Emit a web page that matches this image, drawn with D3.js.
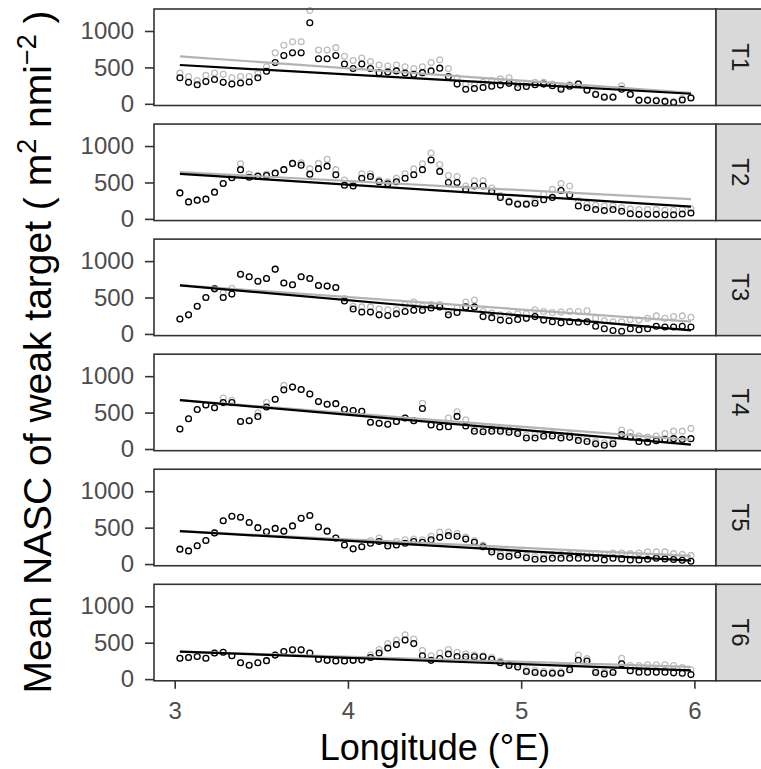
<!DOCTYPE html>
<html>
<head>
<meta charset="utf-8">
<script src="https://cdn.jsdelivr.net/npm/d3@7"></script>
<style>
    body { margin: 0; background: #ffffff; }
    svg { display: block; font-family: "Liberation Sans", Arial, sans-serif; }
</style>
</head>
<body>
<svg id="chart" width="761" height="769"></svg>
<script>
// longitude of each averaged cell (deg E)
var lon = [3.03, 3.08, 3.13, 3.18, 3.23, 3.28, 3.33, 3.38, 3.43, 3.48,
    3.53, 3.58, 3.63, 3.68, 3.73, 3.78, 3.83, 3.88, 3.93, 3.98,
    4.03, 4.08, 4.13, 4.18, 4.23, 4.28, 4.33, 4.38, 4.43, 4.48,
    4.53, 4.58, 4.63, 4.68, 4.73, 4.78, 4.83, 4.88, 4.93, 4.98,
    5.03, 5.08, 5.13, 5.18, 5.23, 5.28, 5.33, 5.38, 5.43, 5.48,
    5.53, 5.58, 5.63, 5.68, 5.73, 5.78, 5.83, 5.88, 5.93, 5.98];

var transects = ["T1", "T2", "T3", "T4", "T5", "T6"];
var yTicks = [0, 500, 1000];
var xTicks = [3, 4, 5, 6];

// black circles
var t1Black = [357, 295, 262, 305, 333, 295, 271, 286, 300, 357, 447, 566, 662, 700, 700, 1114, 619, 619, 662, 547,
    486, 547, 486, 428, 438, 452, 424, 405, 428, 452, 490, 376, 271, 200, 209, 224, 243, 257, 281, 224,
    238, 262, 271, 248, 200, 243, 271, 186, 129, 90, 90, 200, 129, 48, 48, 43, 33, 19, 52, 81];
var t2Black = [357, 233, 257, 271, 367, 486, 566, 676, 571, 586, 595, 628, 676, 762, 738, 614, 690, 724, 605, 462,
    452, 557, 581, 509, 481, 509, 557, 605, 676, 809, 652, 500, 500, 405, 452, 452, 376, 295, 233, 200,
    200, 214, 262, 295, 390, 328, 176, 152, 129, 114, 129, 105, 71, 62, 62, 62, 57, 57, 67, 81];
var t3Black = [205, 262, 381, 500, 619, 500, 547, 819, 785, 724, 762, 890, 700, 676, 785, 762, 666, 657, 638, 452,
    343, 300, 300, 262, 252, 276, 309, 324, 324, 357, 371, 262, 295, 371, 371, 238, 224, 190, 181, 200,
    214, 238, 190, 167, 152, 167, 162, 167, 105, 71, 48, 38, 71, 57, 71, 105, 95, 95, 105, 95];
var t4Black = [274, 415, 543, 604, 566, 637, 637, 378, 387, 448, 576, 684, 812, 850, 817, 755, 651, 614, 623, 543,
    529, 519, 368, 354, 340, 378, 425, 387, 557, 330, 302, 307, 448, 316, 245, 236, 245, 245, 231, 212,
    151, 151, 175, 179, 151, 160, 118, 104, 71, 52, 71, 198, 165, 104, 94, 113, 132, 142, 132, 142];
var t5Black = [205, 181, 252, 324, 428, 595, 657, 643, 571, 500, 443, 490, 452, 524, 628, 666, 509, 452, 357, 262,
    209, 238, 286, 309, 248, 262, 286, 309, 300, 333, 367, 390, 381, 343, 300, 238, 167, 105, 105, 124,
    86, 67, 71, 81, 81, 81, 81, 81, 76, 57, 81, 71, 57, 57, 67, 81, 71, 62, 52, 38];
var t6Black = [287, 297, 311, 287, 359, 368, 321, 225, 191, 225, 254, 330, 378, 402, 402, 359, 273, 258, 249, 249,
    258, 263, 297, 359, 426, 474, 536, 488, 321, 258, 282, 345, 311, 306, 306, 306, 273, 225, 187, 167,
    105, 91, 81, 81, 81, 129, 258, 249, 91, 72, 91, 211, 115, 96, 96, 96, 96, 86, 81, 62];

// grey circles
var t1Grey = [424, 376, 319, 390, 424, 405, 357, 376, 376, 414, 509, 700, 804, 852, 852, 1280, 738, 738, 771, 652,
    595, 628, 581, 533, 519, 533, 509, 486, 509, 566, 605, 486, 357, 271, 271, 295, 319, 343, 357, 271,
    281, 295, 295, 271, 224, 262, 281, 200, 138, 105, 105, 248, 138, 57, 57, 52, 43, 33, 71, 90];
var t2Grey = [357, 233, 257, 271, 367, 486, 566, 757, 614, 600, 614, 628, 676, 762, 771, 690, 762, 819, 676, 533,
    486, 619, 619, 533, 509, 557, 619, 686, 757, 904, 747, 595, 581, 452, 524, 524, 424, 319, 248, 214,
    214, 248, 343, 405, 486, 452, 248, 200, 186, 176, 176, 152, 138, 129, 129, 129, 119, 119, 129, 138];
var t3Grey = [205, 262, 381, 500, 628, 571, 628, 819, 785, 724, 762, 890, 700, 676, 785, 762, 666, 657, 638, 486,
    381, 371, 371, 343, 333, 333, 405, 438, 381, 405, 405, 309, 357, 438, 466, 309, 286, 262, 262, 276,
    276, 333, 309, 295, 300, 309, 309, 319, 214, 181, 167, 167, 200, 190, 214, 248, 214, 238, 248, 228];
var t4Grey = [274, 415, 543, 604, 566, 699, 670, 378, 387, 496, 637, 684, 873, 850, 817, 755, 651, 614, 623, 543,
    529, 519, 368, 354, 340, 378, 425, 387, 628, 330, 302, 425, 510, 401, 283, 269, 283, 274, 260, 245,
    189, 198, 212, 212, 189, 198, 160, 142, 104, 85, 104, 260, 227, 179, 165, 179, 212, 245, 245, 283];
var t5Grey = [205, 181, 252, 324, 428, 595, 657, 643, 571, 500, 443, 490, 452, 524, 628, 666, 509, 452, 357, 262,
    209, 238, 324, 357, 286, 309, 333, 343, 333, 381, 438, 438, 419, 371, 324, 262, 200, 143, 143, 152,
    119, 105, 119, 129, 133, 133, 133, 143, 143, 133, 152, 152, 143, 152, 167, 167, 167, 143, 133, 119];
var t6Grey = [287, 297, 311, 287, 359, 368, 321, 225, 191, 225, 254, 330, 378, 402, 402, 359, 273, 258, 249, 249,
    258, 263, 330, 407, 488, 536, 608, 550, 392, 321, 359, 407, 368, 345, 330, 321, 297, 249, 215, 201,
    129, 120, 105, 100, 100, 167, 330, 282, 120, 100, 120, 287, 187, 187, 196, 196, 196, 187, 158, 129];

// linear trend lines: value at the first and last longitude
var fitLon = [3.03, 5.98];
var blackFit = [[533, 138], [619, 167], [666, 48], [670, 61], [452, 48], [378, 120]];
var greyFit = [[652, 152], [643, 271], [670, 170], [670, 125], [452, 112], [378, 167]];

var blackSeries = [t1Black, t2Black, t3Black, t4Black, t5Black, t6Black];
var greySeries = [t1Grey, t2Grey, t3Grey, t4Grey, t5Grey, t6Grey];

var panelLeft = 154, panelRight = 716, stripW = 47;
var panelTop = 9, panelH = 96.5, panelStep = 115.06;

var svg = d3.select("#chart");

var x = d3.scaleLinear().domain([2.8805, 6.1247]).range([panelLeft, panelRight]);
var y = d3.scaleLinear().domain([-23, 1302]).range([panelH, 0]);

var line = d3.line()
    .x(function (d, i) { return x(fitLon[i]); })
    .y(function (d) { return y(d); });

transects.forEach(function (name, k) {
    var g = svg.append("g")
        .attr("transform", "translate(0," + (panelTop + k * panelStep) + ")");

    g.append("rect")
        .attr("x", panelLeft).attr("y", 0)
        .attr("width", panelRight - panelLeft).attr("height", panelH)
        .attr("fill", "#ffffff");

    var plot = g.append("g");

    plot.selectAll("circle.grey")
        .data(greySeries[k])
        .enter().append("circle")
        .attr("class", "grey")
        .attr("cx", function (d, i) { return x(lon[i]); })
        .attr("cy", function (d) { return y(d); })
        .attr("r", 2.9)
        .attr("fill", "none")
        .attr("stroke", "#bdbdbd")
        .attr("stroke-width", 1.3);

    plot.selectAll("circle.black")
        .data(blackSeries[k])
        .enter().append("circle")
        .attr("class", "black")
        .attr("cx", function (d, i) { return x(lon[i]); })
        .attr("cy", function (d) { return y(d); })
        .attr("r", 2.9)
        .attr("fill", "none")
        .attr("stroke", "#000000")
        .attr("stroke-width", 1.3);

    plot.append("path")
        .datum(greyFit[k])
        .attr("d", line)
        .attr("fill", "none")
        .attr("stroke", "#b3b3b3")
        .attr("stroke-width", 2.2);

    plot.append("path")
        .datum(blackFit[k])
        .attr("d", line)
        .attr("fill", "none")
        .attr("stroke", "#000000")
        .attr("stroke-width", 2.2);

    // y axis
    var yAxis = g.append("g")
        .attr("transform", "translate(" + panelLeft + ",0)")
        .call(d3.axisLeft(y).tickValues(yTicks).tickSize(9).tickPadding(11).tickFormat(d3.format("d")));
    yAxis.select(".domain").remove();
    yAxis.selectAll("line").attr("stroke", "#333333").attr("stroke-width", 1.6);
    yAxis.selectAll("text")
        .attr("fill", "#4d4d4d")
        .style("font-size", "24px")
        .style("font-family", "'Liberation Sans', Arial, sans-serif");

    if (k === transects.length - 1) {
        var xAxis = g.append("g")
            .attr("transform", "translate(0," + panelH + ")")
            .call(d3.axisBottom(x).tickValues(xTicks).tickSize(8).tickPadding(13).tickFormat(d3.format("d")));
        xAxis.select(".domain").remove();
        xAxis.selectAll("line").attr("stroke", "#333333").attr("stroke-width", 1.6);
        xAxis.selectAll("text")
            .attr("fill", "#4d4d4d")
            .style("font-size", "24px")
            .style("font-family", "'Liberation Sans', Arial, sans-serif");
    }

    // panel border
    g.append("rect")
        .attr("x", panelLeft).attr("y", 0)
        .attr("width", panelRight - panelLeft).attr("height", panelH)
        .attr("fill", "none")
        .attr("stroke", "#333333")
        .attr("stroke-width", 1.6);

    // facet strip
    g.append("rect")
        .attr("x", panelRight).attr("y", 0)
        .attr("width", stripW).attr("height", panelH)
        .attr("fill", "#d9d9d9")
        .attr("stroke", "#333333")
        .attr("stroke-width", 1.6);

    g.append("text")
        .attr("transform", "translate(" + (panelRight + 24) + "," + (panelH / 2) + ") rotate(90)")
        .attr("text-anchor", "middle")
        .attr("dy", "0.35em")
        .attr("fill", "#1a1a1a")
        .style("font-size", "24px")
        .text(name);
});

// axis titles
svg.append("text")
    .attr("x", (panelLeft + panelRight) / 2)
    .attr("y", 760)
    .attr("text-anchor", "middle")
    .attr("fill", "#000000")
    .style("font-size", "36px")
    .text("Longitude (\u00b0E)");

var yTitle = svg.append("text")
    .attr("transform", "translate(37,352) rotate(-90)")
    .attr("text-anchor", "middle")
    .attr("dy", "0.35em")
    .attr("fill", "#000000")
    .style("font-size", "39px");
yTitle.append("tspan").text("Mean NASC of weak target ( m");
yTitle.append("tspan").attr("baseline-shift", "super").style("font-size", "27px").text("2");
yTitle.append("tspan").text(" nmi");
yTitle.append("tspan").attr("baseline-shift", "super").style("font-size", "27px").text("\u22122");
yTitle.append("tspan").text(" )");
</script>
</body>
</html>
